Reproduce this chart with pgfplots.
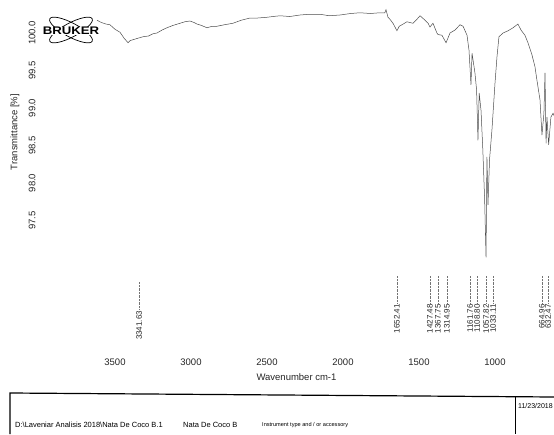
\documentclass[border=0pt]{standalone}
\usepackage{pgfplots}
\pgfplotsset{compat=1.18}
\usepackage{fontspec}
\setmainfont{Liberation Sans}
\newcommand{\pk}[2]{\draw[black!55, densely dotted, line width=0.4pt] (axis cs:#1,96.76) -- (axis cs:#1,96.40) node[rotate=90, anchor=east, inner sep=1pt, text=black!85, font=\fontsize{8}{9}\selectfont]{#2};}
\begin{document}
\begin{tikzpicture}[x=1pt,y=1pt]
\useasboundingbox (0,0) rectangle (554,-434);
\begin{axis}[
  at={(39pt,-355pt)}, anchor=south west,
  width=515pt, height=355pt, scale only axis,
  x dir=reverse,
  xmin=611.8, xmax=4000,
  ymin=95.707, ymax=100.44,
  axis line style={draw=none},
  tick style={draw=none},
  xtick={1000,1500,2000,2500,3000,3500},
  ytick={97.5,98.0,98.5,99.0,99.5,100.0},
  /pgf/number format/assume math mode=true,
  /pgf/number format/set thousands separator={},
  y tick label style={/pgf/number format/fixed, /pgf/number format/fixed zerofill, /pgf/number format/precision=1},
  yticklabel style={rotate=90, anchor=south, font=\fontsize{9.5}{11}\selectfont, text=black!85},
  xticklabel style={font=\fontsize{9.5}{11}\selectfont, text=black!85},
  xlabel={Wavenumber cm-1},
  xlabel style={font=\fontsize{9.5}{11}\selectfont, text=black!85, yshift=-1pt},
  ylabel={Transmittance [\%]},
  ylabel style={at={(axis description cs:-0.0466,0.628)}, anchor=center, font=\fontsize{9.5}{11}\selectfont, text=black!85},
]
\addplot[black!70, line width=0.5pt] table[x=w, y=T] {
w T
3618 100.17
3590 100.14
3560 100.12
3533 100.11
3500 100.05
3467 100.01
3440 99.93
3414 99.87
3400 99.90
3382 99.91
3350 99.93
3316 99.95
3280 99.96
3250 99.99
3224 100.00
3190 100.04
3158 100.07
3120 100.10
3072 100.13
3040 100.15
3007 100.16
2980 100.14
2961 100.12
2930 100.10
2895 100.07
2860 100.09
2829 100.09
2780 100.11
2724 100.13
2670 100.17
2612 100.20
2560 100.20
2500 100.21
2460 100.22
2414 100.23
2350 100.22
2283 100.24
2220 100.25
2151 100.25
2090 100.23
2020 100.24
1950 100.26
1888 100.27
1820 100.26
1757 100.27
1725 100.27
1717 100.31
1704 100.21
1690 100.18
1671 100.13
1645 100.03
1630 100.09
1612 100.11
1579 100.15
1560 100.14
1540 100.13
1515 100.18
1493 100.23
1460 100.17
1440 100.13
1428 100.08
1408 100.13
1382 100.00
1375 99.98
1349 99.97
1322 99.87
1310 99.93
1296 100.00
1263 100.04
1230 100.11
1210 100.09
1184 99.97
1171 99.77
1158 99.31
1151 99.73
1132 99.47
1121 99.24
1112 98.57
1104 99.20
1092 98.97
1080 98.44
1068 97.77
1059 97.01
1053 98.35
1046 97.71
1036 98.31
1020 98.71
1000 99.33
987 99.68
974 99.95
947 100.00
914 100.03
881 100.07
849 100.12
829 100.04
803 99.97
783 99.87
757 99.71
737 99.55
724 99.37
704 99.11
691 98.64
678 98.93
671 99.47
664 98.53
658 98.88
647 98.51
632 98.88
618 98.93
612 98.90
};
\draw[black!55, densely dotted, line width=0.4pt] (axis cs:3342,96.68) -- (axis cs:3342,96.31) node[rotate=90, anchor=east, inner sep=1pt, text=black!85, font=\fontsize{8}{9}\selectfont]{3341.63};
\pk{1645}{1652.41}
\pk{1428}{1427.48}
\pk{1375}{1367.75}
\pk{1316}{1314.95}
\pk{1164}{1161.76}
\pk{1118}{1108.80}
\pk{1059}{1057.82}
\pk{1013}{1033.11}
\pk{691}{664.96}
\pk{651}{632.47}
\end{axis}
% Bruker logo
\begin{scope}[shift={(71,-30)}]
\draw[line width=0.7pt, rotate=28] (0,0) ellipse [x radius=24, y radius=7];
\draw[line width=0.7pt, rotate=-28] (0,0) ellipse [x radius=24, y radius=7];
\node[fill=white, inner sep=0.6pt, xscale=1.2, font=\bfseries\fontsize{11}{11}\selectfont] at (0,-1) {BRUKER};
\end{scope}
% footer
\draw[line width=1.2pt] (10,-434) -- (10,-393) -- (554,-397);
\draw[line width=0.6pt] (515,-396.5) -- (515,-434);
\node[anchor=base west, inner sep=0pt, font=\fontsize{7.5}{8}\selectfont] at (15,-427) {D:\textbackslash Laveniar Analisis 2018\textbackslash Nata De Coco B.1};
\node[anchor=base west, inner sep=0pt, font=\fontsize{7.5}{8}\selectfont] at (183,-427) {Nata De Coco B};
\node[anchor=base west, inner sep=0pt, font=\fontsize{5.6}{7}\selectfont] at (262,-426) {Instrument type and / or accessory};
\node[anchor=base west, inner sep=0pt, font=\fontsize{7}{8}\selectfont] at (518,-408) {11/23/2018};
\end{tikzpicture}
\end{document}
